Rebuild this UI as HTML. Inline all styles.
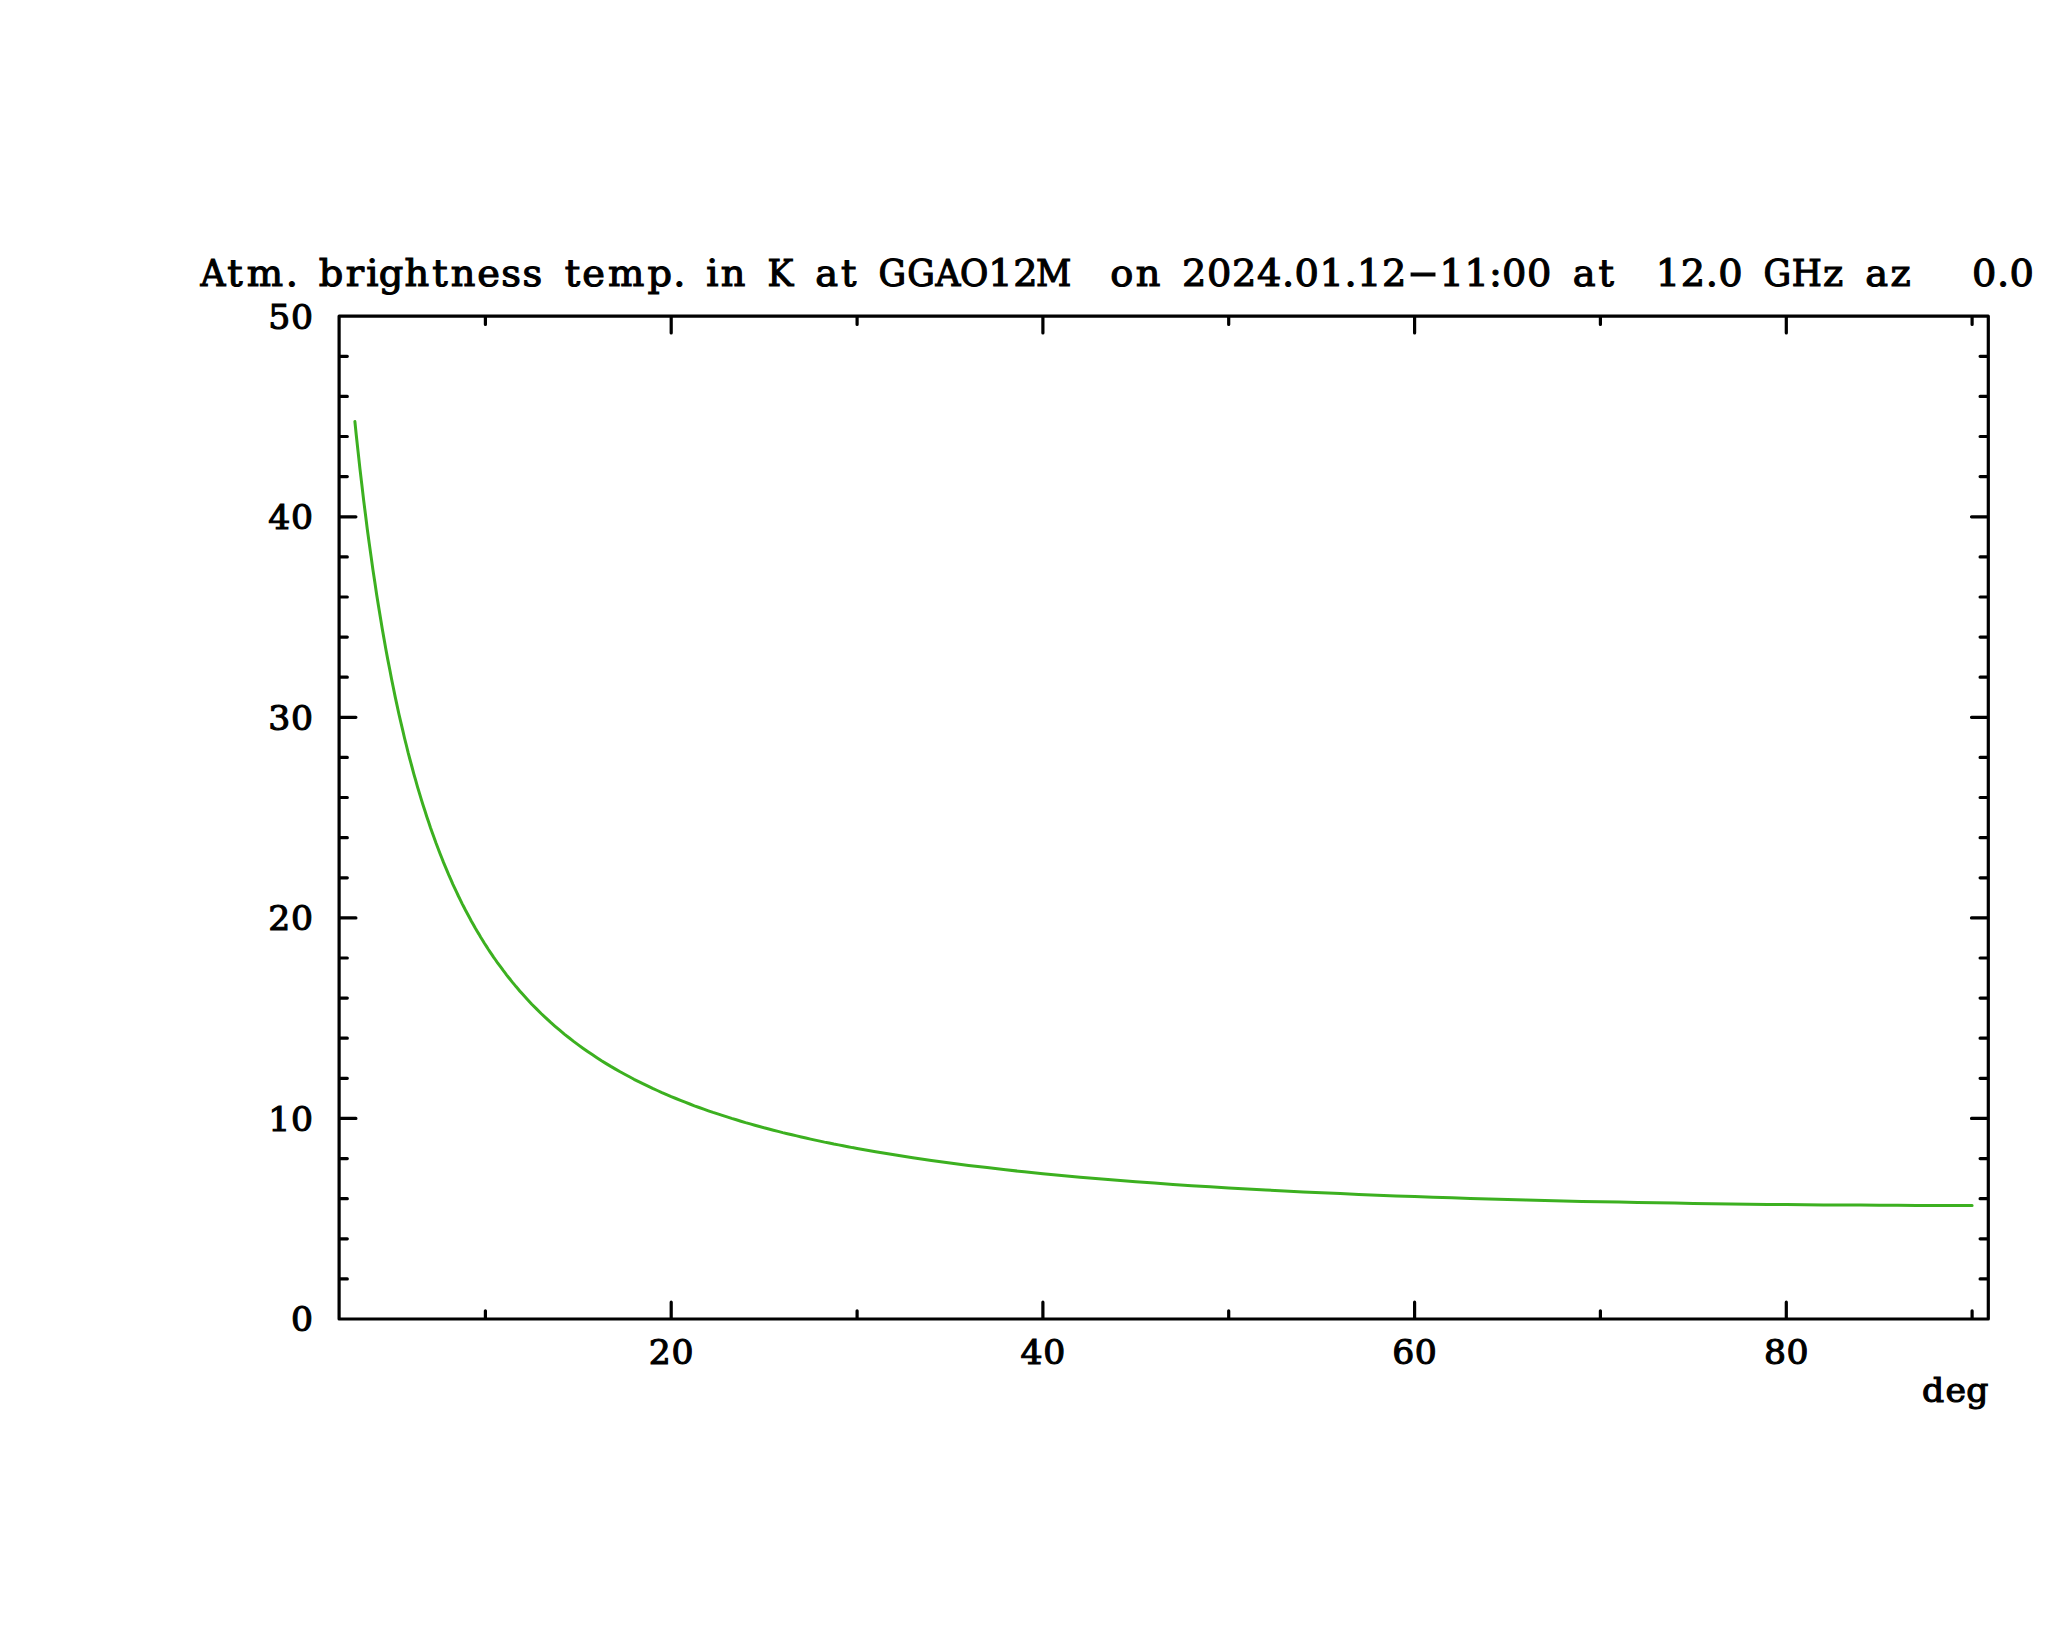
<!DOCTYPE html>
<html lang="en"><head><meta charset="utf-8"><title>Atm. brightness temp.</title>
<style>html,body{margin:0;padding:0;background:#fff}body{width:2048px;height:1635px;overflow:hidden}svg{display:block}text{font-family:"DejaVu Serif", "Liberation Serif", serif;font-weight:normal;fill:#000;text-anchor:middle;white-space:pre;stroke:#000;stroke-width:1.1px;}.c{font-stretch:condensed}.ax{stroke:#000;stroke-width:3.2;stroke-linecap:round;stroke-linejoin:round;fill:none}.cv{stroke:#3cb020;stroke-width:3;stroke-linecap:round;stroke-linejoin:round;fill:none}</style></head><body>
<svg width="2048" height="1635" viewBox="0 0 2048 1635">
<rect width="2048" height="1635" fill="#fff"/>
<polyline class="cv" points="354.9,421.6 356.2,434.5 358.1,451.8 359.9,468.4 361.8,484.4 363.6,499.9 365.5,514.8 367.3,529.2 369.2,543.1 371.1,556.6 372.9,569.6 374.8,582.1 376.6,594.3 378.5,606.0 380.4,617.4 382.2,628.5 384.1,639.2 385.9,649.5 387.8,659.6 389.7,669.3 391.5,678.8 393.4,688.0 395.2,696.9 397.1,705.6 398.9,714.0 400.8,722.2 402.7,730.2 404.5,738.0 406.4,745.5 408.2,752.9 410.1,760.0 412.0,767.0 413.8,773.8 415.7,780.4 417.5,786.8 419.4,793.1 421.2,799.2 423.1,805.2 425.0,811.0 426.8,816.7 428.7,822.3 430.5,827.7 432.4,833.0 434.3,838.2 436.1,843.3 438.0,848.2 439.8,853.0 441.7,857.8 443.5,862.4 445.4,866.9 447.3,871.3 449.1,875.7 451.0,879.9 452.8,884.1 454.7,888.1 456.6,892.1 458.4,896.0 460.3,899.8 462.1,903.6 464.0,907.2 465.8,910.8 467.7,914.3 469.6,917.8 471.4,921.2 473.3,924.5 475.1,927.8 477.0,931.0 478.9,934.1 480.7,937.2 482.6,940.2 484.4,943.2 486.3,946.1 488.1,949.0 490.0,951.8 491.9,954.6 493.7,957.3 495.6,960.0 497.4,962.6 499.3,965.2 501.2,967.7 503.0,970.2 504.9,972.7 506.7,975.1 508.6,977.5 510.5,979.8 512.3,982.1 514.2,984.4 516.0,986.6 517.9,988.8 519.7,990.9 521.6,993.1 522.5,994.1 527.2,999.2 531.8,1004.2 536.5,1008.9 541.1,1013.5 545.8,1017.9 550.4,1022.2 555.1,1026.3 559.7,1030.2 564.3,1034.1 569.0,1037.8 573.6,1041.4 578.3,1044.9 582.9,1048.2 587.6,1051.5 592.2,1054.6 596.9,1057.7 601.5,1060.7 606.2,1063.6 610.8,1066.4 615.5,1069.1 620.1,1071.8 624.7,1074.3 629.4,1076.8 634.0,1079.3 638.7,1081.6 643.3,1083.9 648.0,1086.2 652.6,1088.4 657.3,1090.5 661.9,1092.6 666.6,1094.6 671.2,1096.6 675.9,1098.5 680.5,1100.4 685.1,1102.2 689.8,1104.0 694.4,1105.8 699.1,1107.5 703.7,1109.1 708.4,1110.8 713.0,1112.4 717.7,1113.9 722.3,1115.4 727.0,1116.9 731.6,1118.4 736.3,1119.8 740.9,1121.2 745.5,1122.6 750.2,1123.9 754.8,1125.2 759.5,1126.5 764.1,1127.8 768.8,1129.0 773.4,1130.2 778.1,1131.4 782.7,1132.6 787.4,1133.7 792.0,1134.8 796.7,1135.9 801.3,1137.0 805.9,1138.0 810.6,1139.1 815.2,1140.1 819.9,1141.1 824.5,1142.1 829.2,1143.0 833.8,1144.0 838.5,1144.9 843.1,1145.8 847.8,1146.7 852.4,1147.6 857.1,1148.4 875.6,1151.7 894.2,1154.8 912.8,1157.7 931.4,1160.4 950.0,1163.0 968.6,1165.4 987.1,1167.6 1005.7,1169.8 1024.3,1171.8 1042.9,1173.7 1061.5,1175.5 1080.1,1177.2 1098.7,1178.8 1117.2,1180.3 1135.8,1181.7 1154.4,1183.1 1173.0,1184.4 1191.6,1185.7 1210.2,1186.8 1228.7,1188.0 1247.3,1189.0 1265.9,1190.0 1284.5,1191.0 1303.1,1191.9 1321.7,1192.8 1340.3,1193.6 1358.8,1194.4 1377.4,1195.2 1396.0,1195.9 1414.6,1196.6 1433.2,1197.2 1451.8,1197.8 1470.3,1198.4 1488.9,1199.0 1507.5,1199.5 1526.1,1200.0 1544.7,1200.5 1563.3,1200.9 1581.9,1201.4 1600.4,1201.8 1619.0,1202.1 1637.6,1202.5 1656.2,1202.8 1674.8,1203.1 1693.4,1203.4 1711.9,1203.7 1730.5,1203.9 1749.1,1204.2 1767.7,1204.4 1786.3,1204.6 1804.9,1204.7 1823.5,1204.9 1842.0,1205.0 1860.6,1205.1 1879.2,1205.2 1897.8,1205.3 1916.4,1205.4 1935.0,1205.4 1953.5,1205.4 1972.1,1205.4"/>
<path class="ax" d="M339.1 316.2H1988.3V1319.0H339.1ZM485.4 1319.0v-8.2M485.4 316.2v8.2M671.2 1319.0v-16.8M671.2 316.2v16.8M857.1 1319.0v-8.2M857.1 316.2v8.2M1042.9 1319.0v-16.8M1042.9 316.2v16.8M1228.7 1319.0v-8.2M1228.7 316.2v8.2M1414.6 1319.0v-16.8M1414.6 316.2v16.8M1600.4 1319.0v-8.2M1600.4 316.2v8.2M1786.3 1319.0v-16.8M1786.3 316.2v16.8M1972.1 1319.0v-8.2M1972.1 316.2v8.2M339.1 1278.9h8.2M1988.3 1278.9h-8.2M339.1 1238.8h8.2M1988.3 1238.8h-8.2M339.1 1198.7h8.2M1988.3 1198.7h-8.2M339.1 1158.6h8.2M1988.3 1158.6h-8.2M339.1 1118.4h16.8M1988.3 1118.4h-16.8M339.1 1078.3h8.2M1988.3 1078.3h-8.2M339.1 1038.2h8.2M1988.3 1038.2h-8.2M339.1 998.1h8.2M1988.3 998.1h-8.2M339.1 958.0h8.2M1988.3 958.0h-8.2M339.1 917.9h16.8M1988.3 917.9h-16.8M339.1 877.8h8.2M1988.3 877.8h-8.2M339.1 837.7h8.2M1988.3 837.7h-8.2M339.1 797.5h8.2M1988.3 797.5h-8.2M339.1 757.4h8.2M1988.3 757.4h-8.2M339.1 717.3h16.8M1988.3 717.3h-16.8M339.1 677.2h8.2M1988.3 677.2h-8.2M339.1 637.1h8.2M1988.3 637.1h-8.2M339.1 597.0h8.2M1988.3 597.0h-8.2M339.1 556.9h8.2M1988.3 556.9h-8.2M339.1 516.8h16.8M1988.3 516.8h-16.8M339.1 476.6h8.2M1988.3 476.6h-8.2M339.1 436.5h8.2M1988.3 436.5h-8.2M339.1 396.4h8.2M1988.3 396.4h-8.2M339.1 356.3h8.2M1988.3 356.3h-8.2"/>
<text xml:space="preserve" font-size="36.5" y="286.00" x="202.86 223.69 252.26 277.86 293.33 315.36 337.98 354.64 372.50 396.90 418.93 440.95 465.36 486.79 507.02 526.67 545.12 565.36 596.31 628.45 646.90 662.38 678.45 698.10 720.71 743.33 765.95 787.38 808.21 826.67 849.88 877.26 902.86 927.86 952.86 976.67 1003.45 1027.86 1046.90 1068.33 1093.33 1115.95 1137.38 1161.19 1185.00 1208.81 1226.67 1244.52 1268.33 1286.19 1304.05 1327.86 1355.24 1382.62 1406.43 1424.29 1442.14 1465.95 1487.38 1508.81 1529.64 1548.10 1567.14 1588.57 1612.38 1630.24 1648.10 1669.52 1692.74 1720.71 1745.71 1765.95 1787.38 1810.00 1830.24 1849.29 1868.33 1889.76 1907.62 1925.48" dy="0 0 0 0 0 0 0 0 0 0 0 0 0 0 0 0 0 0 0 0 0 0 0 0 0 0 0 0 0 0 0 0 0 0 0 0 0 0 0 0 0 0 0 0 0 0 0 0 0 0 0 0 -1.2 1.2" transform="scale(1.05,1)"><tspan class="c">A</tspan>tm. brightness temp. in <tspan class="c">K</tspan> at <tspan class="c">GGAO</tspan>12<tspan class="c">M</tspan>  on 2024.01.12<tspan textLength="28.6" lengthAdjust="spacingAndGlyphs">-</tspan>11:00 at  12.0 <tspan class="c">GH</tspan>z az   0.0</text>
<text xml:space="preserve" font-size="33" y="1364.50" x="628.48 650.01" transform="scale(1.05,1)">20</text>
<text xml:space="preserve" font-size="33" y="1364.50" x="982.48 1004.00" transform="scale(1.05,1)">40</text>
<text xml:space="preserve" font-size="33" y="1364.50" x="1336.47 1357.99" transform="scale(1.05,1)">60</text>
<text xml:space="preserve" font-size="33" y="1364.50" x="1690.46 1711.99" transform="scale(1.05,1)">80</text>
<text xml:space="preserve" font-size="33" y="1331.40" x="287.62" transform="scale(1.05,1)">0</text>
<text xml:space="preserve" font-size="33" y="1130.84" x="266.10 287.62" transform="scale(1.05,1)">10</text>
<text xml:space="preserve" font-size="33" y="930.28" x="266.10 287.62" transform="scale(1.05,1)">20</text>
<text xml:space="preserve" font-size="33" y="729.72" x="266.10 287.62" transform="scale(1.05,1)">30</text>
<text xml:space="preserve" font-size="33" y="529.16" x="266.10 287.62" transform="scale(1.05,1)">40</text>
<text xml:space="preserve" font-size="33" y="328.60" x="266.10 287.62" transform="scale(1.05,1)">50</text>
<text xml:space="preserve" font-size="33" y="1401.60" x="1841.14 1862.66 1883.11" transform="scale(1.05,1)">deg</text>
</svg></body></html>
